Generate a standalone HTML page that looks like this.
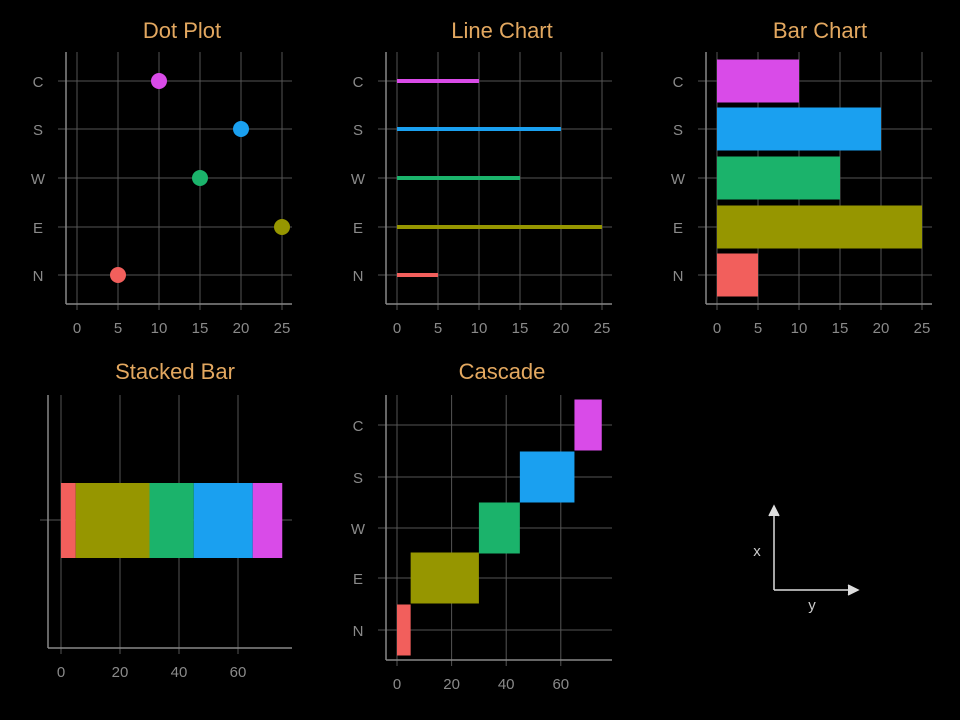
<!DOCTYPE html>
<html><head><meta charset="utf-8"><style>
html,body{margin:0;padding:0;background:#000;}
svg{display:block;}
text{font-family:"Liberation Sans",sans-serif;}
</style></head><body>
<svg id="s" width="960" height="720" viewBox="0 0 960 720" xmlns="http://www.w3.org/2000/svg">
<rect width="960" height="720" fill="#000"/>
<g id="axes-icon" stroke="#ddd" stroke-width="1.5" fill="none">
<line x1="774" y1="590" x2="774" y2="510"/><path d="M769,516 L774,506 L779,516" fill="#ddd"/>
<line x1="774" y1="590" x2="853" y2="590"/><path d="M848,585 L858,590 L848,595" fill="#ddd"/>
</g>
<text x="757" y="556" fill="#ccc" font-size="15" text-anchor="middle">x</text>
<text x="812" y="610" fill="#ccc" font-size="15" text-anchor="middle">y</text>
</svg>
<script>
const categories=["N","E","W","S","C"];
const values=[5,25,15,20,10];
const colors=["#f25f5c","#969600","#1bb36b","#1aa0f0","#d94be8"];
const ticks25=[0,5,10,15,20,25];
const ticks60=[0,20,40,60];
const svg=document.getElementById('s');
const NS="http://www.w3.org/2000/svg";
function el(t,a,p){const e=document.createElementNS(NS,t);for(const k in a)e.setAttribute(k,a[k]);(p||svg).appendChild(e);return e;}
function txt(x,y,s,size,fill,anchor,p){const e=el('text',{x:x,y:y,'font-size':size,fill:fill,'text-anchor':anchor||'middle'},p);e.textContent=s;return e;}
const grid="#555", axisC="#888", lab="#8a8a8a", titleC="#e3a860";

function panel(o){
  const g=el('g',{});
  
  
  const t=txt(o.tx,38+o.oy,o.title,22,titleC,'middle',g);
  
  
  const xs=v=>o.x0+v*o.k;
  // vertical grid
  o.ticks.forEach(v=>{
    el('line',{x1:xs(v),y1:o.top,x2:xs(v),y2:o.bottom+6,stroke:grid,'stroke-width':1},g);
    const tl=txt(xs(v),o.bottom+29,String(v),15,lab,'middle',g);
    
    
  });
  // horizontal grid / categories
  o.ys.forEach((y,i)=>{
    el('line',{x1:o.ax-8,y1:y,x2:o.right,y2:y,stroke:grid,'stroke-width':1},g);
    if(o.labels){const cl=txt(o.ax-28,y+6,o.labels[i],15,lab,'middle',g);
      
      }
  });
  o.draw(g,xs);
  el('line',{x1:o.ax,y1:o.top,x2:o.ax,y2:o.bottom,stroke:axisC,'stroke-width':1.5},g);
  el('line',{x1:o.ax,y1:o.bottom,x2:o.right,y2:o.bottom,stroke:axisC,'stroke-width':1.5},g);
}
const catYs=[275,227,178,129,81];
// Dot plot
panel({name:'dot-plot',title:'Dot Plot',tx:182,oy:0,x0:77,k:8.2,ax:66,top:52,bottom:304,right:292,ticks:ticks25,ys:catYs,labels:categories,
 draw:(g,xs)=>values.forEach((v,i)=>{const c=el('circle',{cx:xs(v),cy:catYs[i],r:8,fill:colors[i]},g);
  
  })});
// Line chart
panel({name:'line-chart',title:'Line Chart',tx:502,oy:0,x0:397,k:8.2,ax:386,top:52,bottom:304,right:612,ticks:ticks25,ys:catYs,labels:categories,
 draw:(g,xs)=>values.forEach((v,i)=>{const l=el('line',{x1:xs(0),y1:catYs[i],x2:xs(v),y2:catYs[i],stroke:colors[i],'stroke-width':4},g);
  
  })});
// Bar chart
panel({name:'bar-chart',title:'Bar Chart',tx:820,oy:0,x0:717,k:8.2,ax:706,top:52,bottom:304,right:932,ticks:ticks25,ys:catYs,labels:categories,
 draw:(g,xs)=>values.forEach((v,i)=>{const r=el('rect',{x:xs(0),y:catYs[i]-21.5,width:xs(v)-xs(0),height:43,fill:colors[i]},g);
  
  })});
// Stacked bar
panel({name:'stacked-bar',title:'Stacked Bar',tx:175,oy:341,x0:61,k:2.95,ax:48,top:395,bottom:648,right:292,ticks:ticks60,ys:[520],labels:null,
 draw:(g,xs)=>{let acc=0;values.forEach((v,i)=>{const r=el('rect',{x:xs(acc),y:483,width:xs(acc+v)-xs(acc),height:75,fill:colors[i]},g);
  
  acc+=v;});}});
// Cascade
const cascYs=[630,578,528,477,425];
panel({name:'cascade',title:'Cascade',tx:502,oy:341,x0:397,k:2.73,ax:386,top:395,bottom:660,right:612,ticks:ticks60,ys:cascYs,labels:categories,
 draw:(g,xs)=>{let acc=0;values.forEach((v,i)=>{const r=el('rect',{x:xs(acc),y:cascYs[i]-25.5,width:xs(acc+v)-xs(acc),height:51,fill:colors[i]},g);
  
  acc+=v;});}});
</script>
</body></html>
